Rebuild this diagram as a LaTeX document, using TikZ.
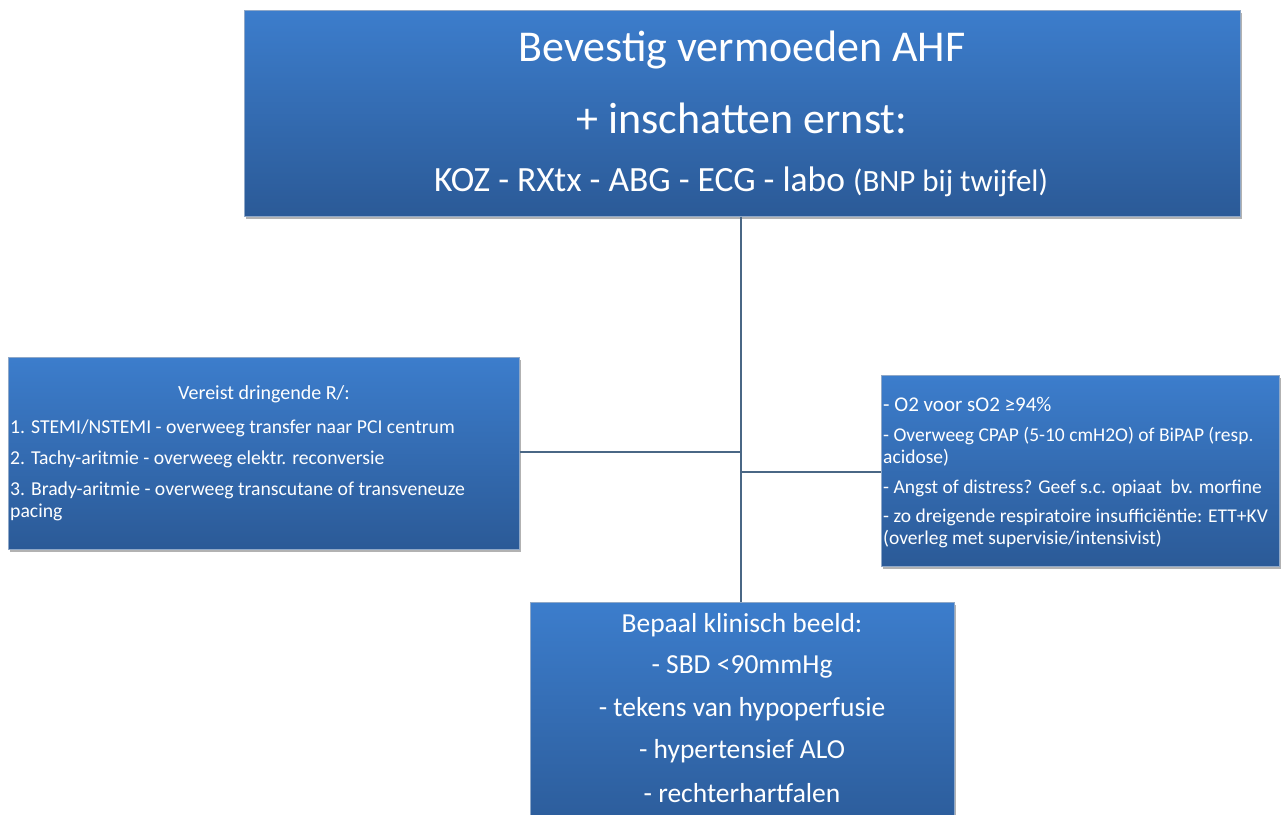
\documentclass[tikz,border=0pt]{standalone}
\usepackage{fontspec}
\setmainfont{Carlito}
\usetikzlibrary{shadows}
\definecolor{boxtop}{HTML}{3C7DCC}
\definecolor{boxbot}{HTML}{2B5A97}
\definecolor{boxedge}{HTML}{8FA8C8}
\definecolor{linkc}{HTML}{4A6785}
\newcommand{\fs}[1]{\fontsize{#1}{#1}\selectfont}
\begin{document}
\begin{tikzpicture}[x=1pt,y=-1pt,
  box/.style={draw=boxedge, line width=0.6pt, top color=boxtop, bottom color=boxbot,
    inner sep=0pt, anchor=north west,
    drop shadow={shadow xshift=2pt, shadow yshift=-3pt, opacity=0.3, fill=black}},
  link/.style={draw=linkc, line width=1.8pt},
  txt/.style={text=white, inner sep=0pt},
  ctxt/.style={txt, anchor=center},
  ltxt/.style={txt, anchor=west}]
\useasboundingbox (0,0) rectangle (1281,814);

% boxes
\node[box, minimum width=996pt, minimum height=206pt] (top) at (244,10) {};
\node[box, minimum width=511pt, minimum height=192pt] (left) at (8,357) {};
\node[box, minimum width=398pt, minimum height=191pt] (right) at (881,375) {};
\node[box, minimum width=424pt, minimum height=240pt] (bottom) at (530,602) {};

% connectors
\coordinate (hub) at (741,452);
\coordinate (hubr) at (741,472);
\draw[link] (top.south -| hub) -- (bottom.north -| hub);
\draw[link] (left.east |- hub) -- (hub);
\draw[link] (hubr) -- (right.west |- hubr);

% text of the top box
\node[ctxt, font=\fs{44}] (t1) at (742,50) {Bevestig vermoeden AHF};
\node[ctxt, font=\fs{44}] (t2) at (742,118) {+ inschatten ernst:};
\node[ctxt, font=\fs{35.5}] (t3) at (741,182) {KOZ - RXtx - ABG - ECG - labo {\fs{31}(BNP bij twijfel)}};

% text of the left box
\node[ctxt, font=\fs{20}] (l0) at (264,394) {Vereist dringende R/:};
\node[ltxt, font=\fs{19.7}] (l1) at (10,428) {1. STEMI/NSTEMI - overweeg transfer naar PCI centrum};
\node[ltxt, font=\fs{19.7}] (l2) at (10,459) {2. Tachy-aritmie - overweeg elektr. reconversie};
\node[ltxt, font=\fs{19.7}] (l3) at (10,490) {3. Brady-aritmie - overweeg transcutane of transveneuze};
\node[ltxt, font=\fs{19.7}] (l4) at (10,512) {pacing};

% text of the right box
\node[ltxt, font=\fs{21}] (r1) at (883,404) {- O2 voor sO2 ≥94\%};
\node[ltxt, font=\fs{19.5}] (r2) at (883,436) {- Overweeg CPAP (5-10 cmH2O) of BiPAP (resp.};
\node[ltxt, font=\fs{19.5}] (r3) at (883,458) {acidose)};
\node[ltxt, font=\fs{19.5}] (r4) at (883,488) {- Angst of distress? Geef s.c. opiaat\ \ bv. morfine};
\node[ltxt, font=\fs{19.5}] (r5) at (883,517) {- zo dreigende respiratoire insufficiëntie: ETT+KV};
\node[ltxt, font=\fs{19.5}] (r6) at (883,539) {(overleg met supervisie/intensivist)};

% text of the bottom box
\node[ctxt, font=\fs{27.5}] (b1) at (742,625) {Bepaal klinisch beeld:};
\node[ctxt, font=\fs{27.5}] (b2) at (742,667) {- SBD <90mmHg};
\node[ctxt, font=\fs{27.5}] (b3) at (742,709) {- tekens van hypoperfusie};
\node[ctxt, font=\fs{27.5}] (b4) at (742,751) {- hypertensief ALO};
\node[ctxt, font=\fs{27.5}] (b5) at (742,793) {- rechterhartfalen};
\end{tikzpicture}
\end{document}
